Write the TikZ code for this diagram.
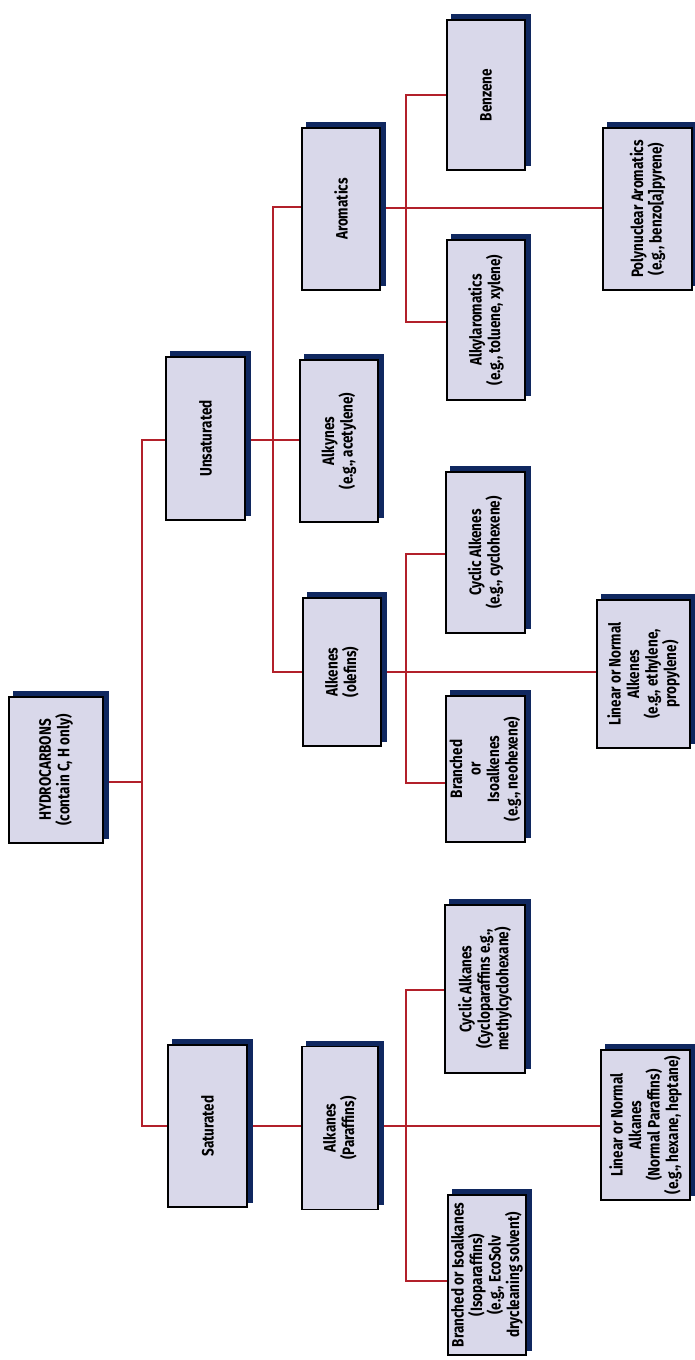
\documentclass[tikz,border=0pt]{standalone}
\usepackage{fontspec}
\newfontfamily\cfont[FakeStretch=0.82]{Fira Sans}
\usetikzlibrary{backgrounds}
\definecolor{boxfill}{RGB}{217,216,234}
\definecolor{shadowc}{RGB}{16,40,96}
\definecolor{linkred}{RGB}{178,32,42}
\tikzset{
  box/.style={draw=black, line width=1.3pt, fill=boxfill, rotate=90, align=center,
    inner sep=1pt, font=\cfont\bfseries\fontsize{16.5}{18.5}\selectfont},
  link/.style={draw=linkred, line width=1.5pt},
  shade/.style={fill=shadowc}
}
\newcommand\bx[6]{\node[box, minimum width=#5pt, minimum height=#4pt] (#1) at (#2,#3) {#6};}
\begin{document}
\begin{tikzpicture}[x=1pt,y=-1pt]
\useasboundingbox (0,0) rectangle (694,1360);
% level 0
\bx{hc}{56}{770}{94}{146}{HYDROCARBONS\\(contain C, H only)}
% level 1
\bx{sat}{207.5}{1126}{79}{162}{Saturated}
\bx{unsat}{205.5}{438.5}{79}{163}{Unsaturated}
% level 2
\bx{alkanes}{340}{1128}{76}{163}{Alkanes\\(Paraffins)}
\bx{alkenes}{342}{672}{78}{148}{Alkenes\\(olefins)}
\bx{alkynes}{339}{441}{78}{162}{Alkynes\\(e.g., acetylene)}
\bx{arom}{341}{209}{78}{162}{Aromatics}
% level 3
\bx{bralkanes}{487}{1275}{78}{160}{Branched or Isoalkanes\\(Isoparaffins)\\(e.g., EcoSolv\\drycleaning solvent)}
\bx{cycalkanes}{485}{989}{80}{168}{Cyclic Alkanes\\(Cycloparaffins e.g.,\\methylcyclohexane)}
\bx{linalkanes}{645.5}{1125}{89}{150}{Linear or Normal\\Alkanes\\(Normal Paraffins)\\(e.g., hexane, heptane)}
\bx{bralkenes}{485.5}{769}{79}{146}{Branched\\or\\Isoalkenes\\(e.g., neohexene)}
\bx{cycalkenes}{485.5}{552.5}{79}{161}{Cyclic Alkenes\\(e.g., cyclohexene)}
\bx{linalkenes}{643.5}{674}{93}{148}{Linear or Normal\\Alkenes\\(e.g., ethylene,\\propylene)}
\bx{alkylar}{486}{320}{78}{160}{Alkylaromatics\\(e.g., toluene, xylene)}
\bx{benzene}{486}{95}{78}{150}{Benzene}
\bx{poly}{647.5}{209}{89}{162}{Polynuclear Aromatics\\(e.g., benzo[a]pyrene)}
% junctions
\coordinate (tH) at (142,782);
\coordinate (tU) at (142,440);
\coordinate (tS) at (142,1126);
\coordinate (u1) at (273,440);
\coordinate (uA) at (273,207);
\coordinate (uE) at (273,672);
\coordinate (a0) at (406,1126);
\coordinate (a1) at (406,990);
\coordinate (a2) at (406,1281);
\coordinate (e0) at (406,672);
\coordinate (e1) at (406,554);
\coordinate (e2) at (406,783);
\coordinate (r0) at (406,208);
\coordinate (r1) at (406,95);
\coordinate (r2) at (406,322);
\begin{scope}[on background layer]
\draw[link] (hc.south |- tH) -- (tH);
\draw[link] (unsat.north |- tU) -- (tU) -- (tS) -- (sat.north |- tS);
\draw[link] (sat.south |- tS) -- (alkanes.north |- tS);
\draw[link] (unsat.south |- u1) -- (alkynes.north |- u1);
\draw[link] (arom.north |- uA) -- (uA) -- (uE) -- (alkenes.north |- uE);
\draw[link] (alkanes.south |- a0) -- (linalkanes.north |- a0);
\draw[link] (cycalkanes.north |- a1) -- (a1) -- (a2) -- (bralkanes.north |- a2);
\draw[link] (alkenes.south |- e0) -- (linalkenes.north |- e0);
\draw[link] (cycalkenes.north |- e1) -- (e1) -- (e2) -- (bralkenes.north |- e2);
\draw[link] (arom.south |- r0) -- (poly.north |- r0);
\draw[link] (benzene.north |- r1) -- (r1) -- (r2) -- (alkylar.north |- r2);
\foreach \n in {hc,sat,unsat,alkanes,alkenes,alkynes,arom,bralkanes,cycalkanes,linalkanes,bralkenes,cycalkenes,linalkenes,alkylar,benzene,poly}
  \fill[shade] ([shift={(5,-5)}]\n.north west) rectangle ([shift={(5,-5)}]\n.south east);
\end{scope}
\end{tikzpicture}
\end{document}
